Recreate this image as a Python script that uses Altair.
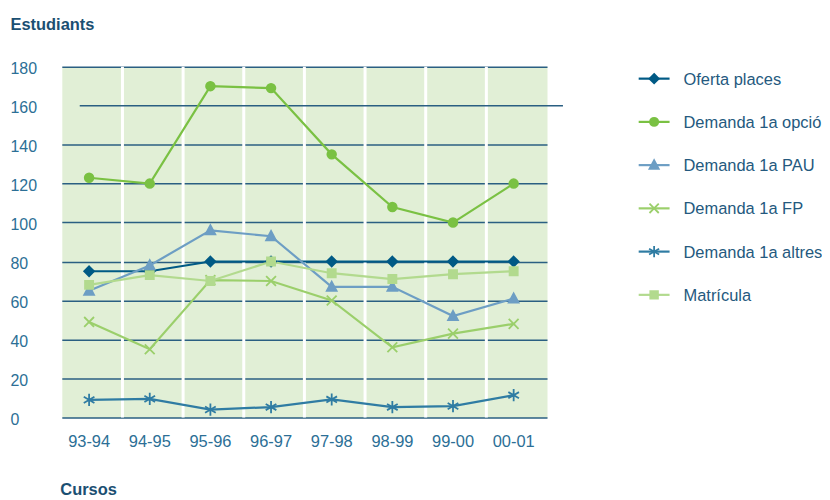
import altair as alt
import pandas as pd

cursos = ["93-94", "94-95", "95-96", "96-97", "97-98", "98-99", "99-00", "00-01"]
series = ["Oferta places", "Demanda 1a opció", "Demanda 1a PAU",
          "Demanda 1a FP", "Demanda 1a altres", "Matrícula"]
oferta = [75, 75, 80, 80, 80, 80, 80, 80]
opcio = [123, 120, 170, 169, 135, 108, 100, 120]
pau = [65, 78, 96, 93, 67, 67, 52, 61]
fp = [49, 35, 70.5, 70, 60, 36, 43, 48]
altres = [9, 9.5, 4, 5.3, 9.2, 5.3, 5.8, 11.4]
matricula = [68, 73, 70, 80, 74, 71, 73.5, 75]
colors = ["#005a85", "#7ac143", "#6d9ec4", "#9bcf6b", "#2f7ca3", "#b2da8e"]
y_ticks = [0, 20, 40, 60, 80, 100, 120, 140, 160, 180]

markers = [
    "M0,-0.85L0.85,0L0,0.85L-0.85,0Z",
    "M-0.75,0A0.75,0.75 0 1,0 0.75,0A0.75,0.75 0 1,0 -0.75,0Z",
    "M0,-0.9L0.85,0.7L-0.85,0.7Z",
    "M-0.85,-0.85L0.85,0.85M-0.85,0.85L0.85,-0.85",
    "M0,-1.05L0,1.05M-0.92,-0.53L0.92,0.53M-0.92,0.53L0.92,-0.53",
    "M-0.7,-0.7L0.7,-0.7L0.7,0.7L-0.7,0.7Z",
]

values = [oferta, opcio, pau, fp, altres, matricula]
rows = []
for s, vals in zip(series, values):
    for c, v in zip(cursos, vals):
        rows.append({"curs": c, "serie": s, "valor": v})
df = pd.DataFrame(rows)
legend_df = pd.DataFrame({"serie": series})

GRID = "#2a5f82"
LABEL = "#2c6f96"
TITLE = "#1b4f72"
FONT = "Liberation Sans"

xscale = alt.Scale(type="band", domain=cursos, paddingInner=0, paddingOuter=0)
yscale = alt.Scale(domain=[0, 180], nice=False, zero=True)
cscale = alt.Scale(domain=series, range=colors)
sscale = alt.Scale(domain=series, range=markers)

xaxis = alt.Axis(title="Cursos", titleX=-2, titleY=77, titleAlign="left",
                 titleBaseline="alphabetic", titleFontSize=16.5, titleFontWeight="bold",
                 titleColor=TITLE, titleFont=FONT, labelAngle=0, ticks=False, tickSize=0,
                 domain=False, grid=False, labelPadding=16, labelFontSize=16.5,
                 labelColor=LABEL, labelFont=FONT, labelOffset=-3, labelBaseline="top")
yaxis = alt.Axis(values=y_ticks, title="Estudiants", titleAngle=0, titleX=-52, titleY=-37,
                 titleAlign="left", titleBaseline="alphabetic", titleFontSize=16.5,
                 titleFontWeight="bold", titleColor=TITLE, titleFont=FONT,
                 labelAlign="left", labelPadding=52, ticks=False, tickSize=0, domain=False,
                 grid=True, gridColor=GRID, gridWidth=1.5,
                 gridOpacity={"condition": {"test": "datum.value == 160", "value": 0}, "value": 1},
                 labelFontSize=16, labelColor=LABEL, labelFont=FONT, labelBaseline="middle",
                 labelOffset=2, labelOverlap=False)

seps = alt.Chart(pd.DataFrame({"curs": cursos[1:]})).mark_rule(
    color="white", strokeWidth=3
).encode(x=alt.X("curs:N", scale=xscale, axis=xaxis, bandPosition=0))

grid160 = alt.Chart(pd.DataFrame({"valor": [160]})).mark_rule(
    color=GRID, strokeWidth=1.5
).encode(y=alt.Y("valor:Q", scale=yscale, axis=yaxis), x=alt.value(18), x2=alt.value(503))

lines = alt.Chart(df).mark_line(strokeWidth=2.2).encode(
    x=alt.X("curs:N", scale=xscale, axis=xaxis, bandPosition=0.45),
    y=alt.Y("valor:Q", scale=yscale, axis=yaxis),
    color=alt.Color("serie:N", scale=cscale, legend=None),
    order=alt.Order("curs_idx:Q"),
).transform_calculate(curs_idx="indexof(" + str(cursos) + ", datum.curs)")

points = alt.Chart(df).mark_point(filled=True, size=135, strokeWidth=1.8, opacity=1).encode(
    x=alt.X("curs:N", scale=xscale, axis=xaxis, bandPosition=0.45),
    y=alt.Y("valor:Q", scale=yscale, axis=yaxis),
    color=alt.Color("serie:N", scale=cscale, legend=None),
    stroke=alt.Stroke("serie:N", scale=cscale, legend=None),
    shape=alt.Shape("serie:N", scale=sscale, legend=None),
)

main = alt.layer(seps, grid160, lines, points)

# legend drawn as its own small layer with its own scales
lx = alt.Scale(domain=[0, 1], range=[579, 610])
ly = alt.Scale(type="point", domain=series, range=[12, 229], padding=0)
ly_enc = alt.Y("serie:N", scale=ly, axis=None)

leg_rules = alt.Chart(legend_df).mark_rule(strokeWidth=2.2).encode(
    x=alt.XDatum(0, scale=lx, axis=None), x2=alt.X2Datum(1), y=ly_enc,
    color=alt.Color("serie:N", scale=cscale, legend=None),
)
leg_points = alt.Chart(legend_df).mark_point(filled=True, size=120, strokeWidth=1.8, opacity=1).encode(
    x=alt.XDatum(0.5, scale=lx, axis=None), y=ly_enc,
    color=alt.Color("serie:N", scale=cscale, legend=None),
    stroke=alt.Stroke("serie:N", scale=cscale, legend=None),
    shape=alt.Shape("serie:N", scale=sscale, legend=None),
)
leg_text = alt.Chart(legend_df).mark_text(
    align="left", baseline="middle", dx=14, dy=1, fontSize=16.5, font=FONT, color="#24597e"
).encode(x=alt.XDatum(1, scale=lx, axis=None), y=ly_enc, text="serie:N")

legend = alt.layer(leg_rules, leg_points, leg_text)

chart = alt.layer(main, legend).resolve_scale(x="independent", y="independent").properties(
    width=487, height=352,
    autosize=alt.AutoSizeParams(type="none"),
    padding={"left": 54, "top": 58, "right": 276, "bottom": 80},
).configure_view(fill="#e1efd6", stroke="transparent")

chart.save("out.html", embed_options={"renderer": "svg", "actions": False})
